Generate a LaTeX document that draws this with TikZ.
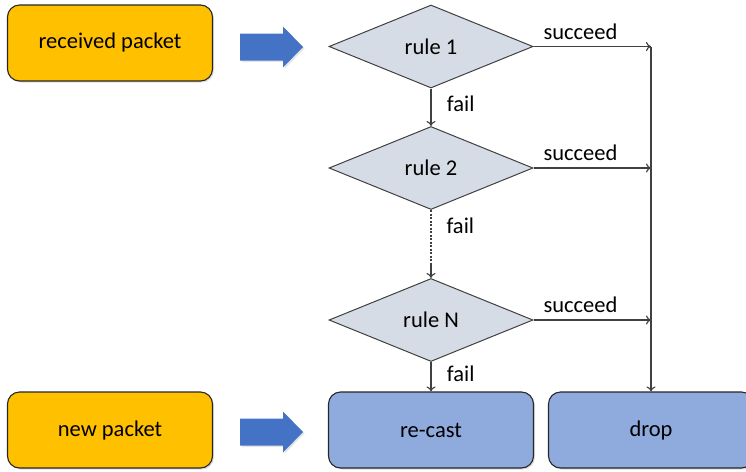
\documentclass[tikz,border=0pt]{standalone}
\usepackage{fontspec}
\setmainfont{Carlito}
\usetikzlibrary{shapes.geometric,arrows.meta,shadows}
\definecolor{pktorange}{HTML}{FFC000}
\definecolor{actblue}{HTML}{8FAADC}
\definecolor{rulegray}{HTML}{D6DCE5}
\definecolor{blockblue}{HTML}{4472C4}
\definecolor{linegray}{HTML}{404040}
\tikzset{
    PktBox/.style={draw=black!85,line width=1.1pt,rounded corners=12pt,
    minimum width=205pt,minimum height=76pt,
    drop shadow={shadow xshift=1.5pt,shadow yshift=-1.5pt,opacity=0.25}},
    RuleBox/.style={diamond,draw=linegray,line width=1pt,fill=rulegray,
    minimum width=204pt,minimum height=83pt,aspect=2.4,inner sep=0pt},
    Flow/.style={draw=linegray,line width=1.1pt,-{To[length=5pt,width=9pt]}}
    }
\begin{document}
\begin{tikzpicture}[x=1pt,y=-1pt,font=\fontsize{22.5}{27}\selectfont]
    \useasboundingbox (0,0) rectangle (746,471);

    % input packets
    \node[PktBox,fill=pktorange] (recv) at (110,43) {received packet};
    \node[PktBox,fill=pktorange] (newpkt) at (110,430) {new packet};

    % block arrows
    \foreach \yc in {47,432}
    {
    \fill[blockblue,drop shadow={shadow xshift=1.5pt,shadow yshift=-1.5pt,opacity=0.2}]
      (240,\yc-13.5) -- (283,\yc-13.5) -- (283,\yc-20.5) -- (303,\yc)
      -- (283,\yc+20.5) -- (283,\yc+13.5) -- (240,\yc+13.5) -- cycle;
    }

    % rules
    \node[RuleBox] (rone) at (431,46.5) {rule 1};
    \node[RuleBox] (rtwo) at (431,168) {rule 2};
    \node[RuleBox] (rlast) at (431,320) {rule N};

    % results
    \node[PktBox,fill=actblue] (recast) at (431,430) {re-cast};
    \node[PktBox,fill=actblue] (drop) at (651,430) {drop};

    \coordinate (jtop) at (651,46.5);
    \coordinate (dashend) at (431,264);

    \draw[Flow] (rone.south) -- (rtwo.north) node[midway,anchor=west,xshift=12pt,yshift=3pt] {fail};
    \draw[draw=linegray,line width=1.1pt,dash pattern=on 2pt off 1.5pt] (rtwo.south) -- (dashend);
    \draw[Flow] (dashend) -- (rlast.north);
    \node[anchor=west] (failtwo) at (443,226) {fail};
    \draw[Flow] (rlast.south) -- (recast.north) node[midway,anchor=west,xshift=12pt,yshift=3pt] {fail};

    \foreach \r in {rone,rtwo,rlast}
        \draw[Flow] (\r.east) -- (\r.east -| jtop) node[pos=0.4,above=3pt] {succeed};
    \draw[Flow] (jtop) -- (drop.north);
\end{tikzpicture}
\end{document}
